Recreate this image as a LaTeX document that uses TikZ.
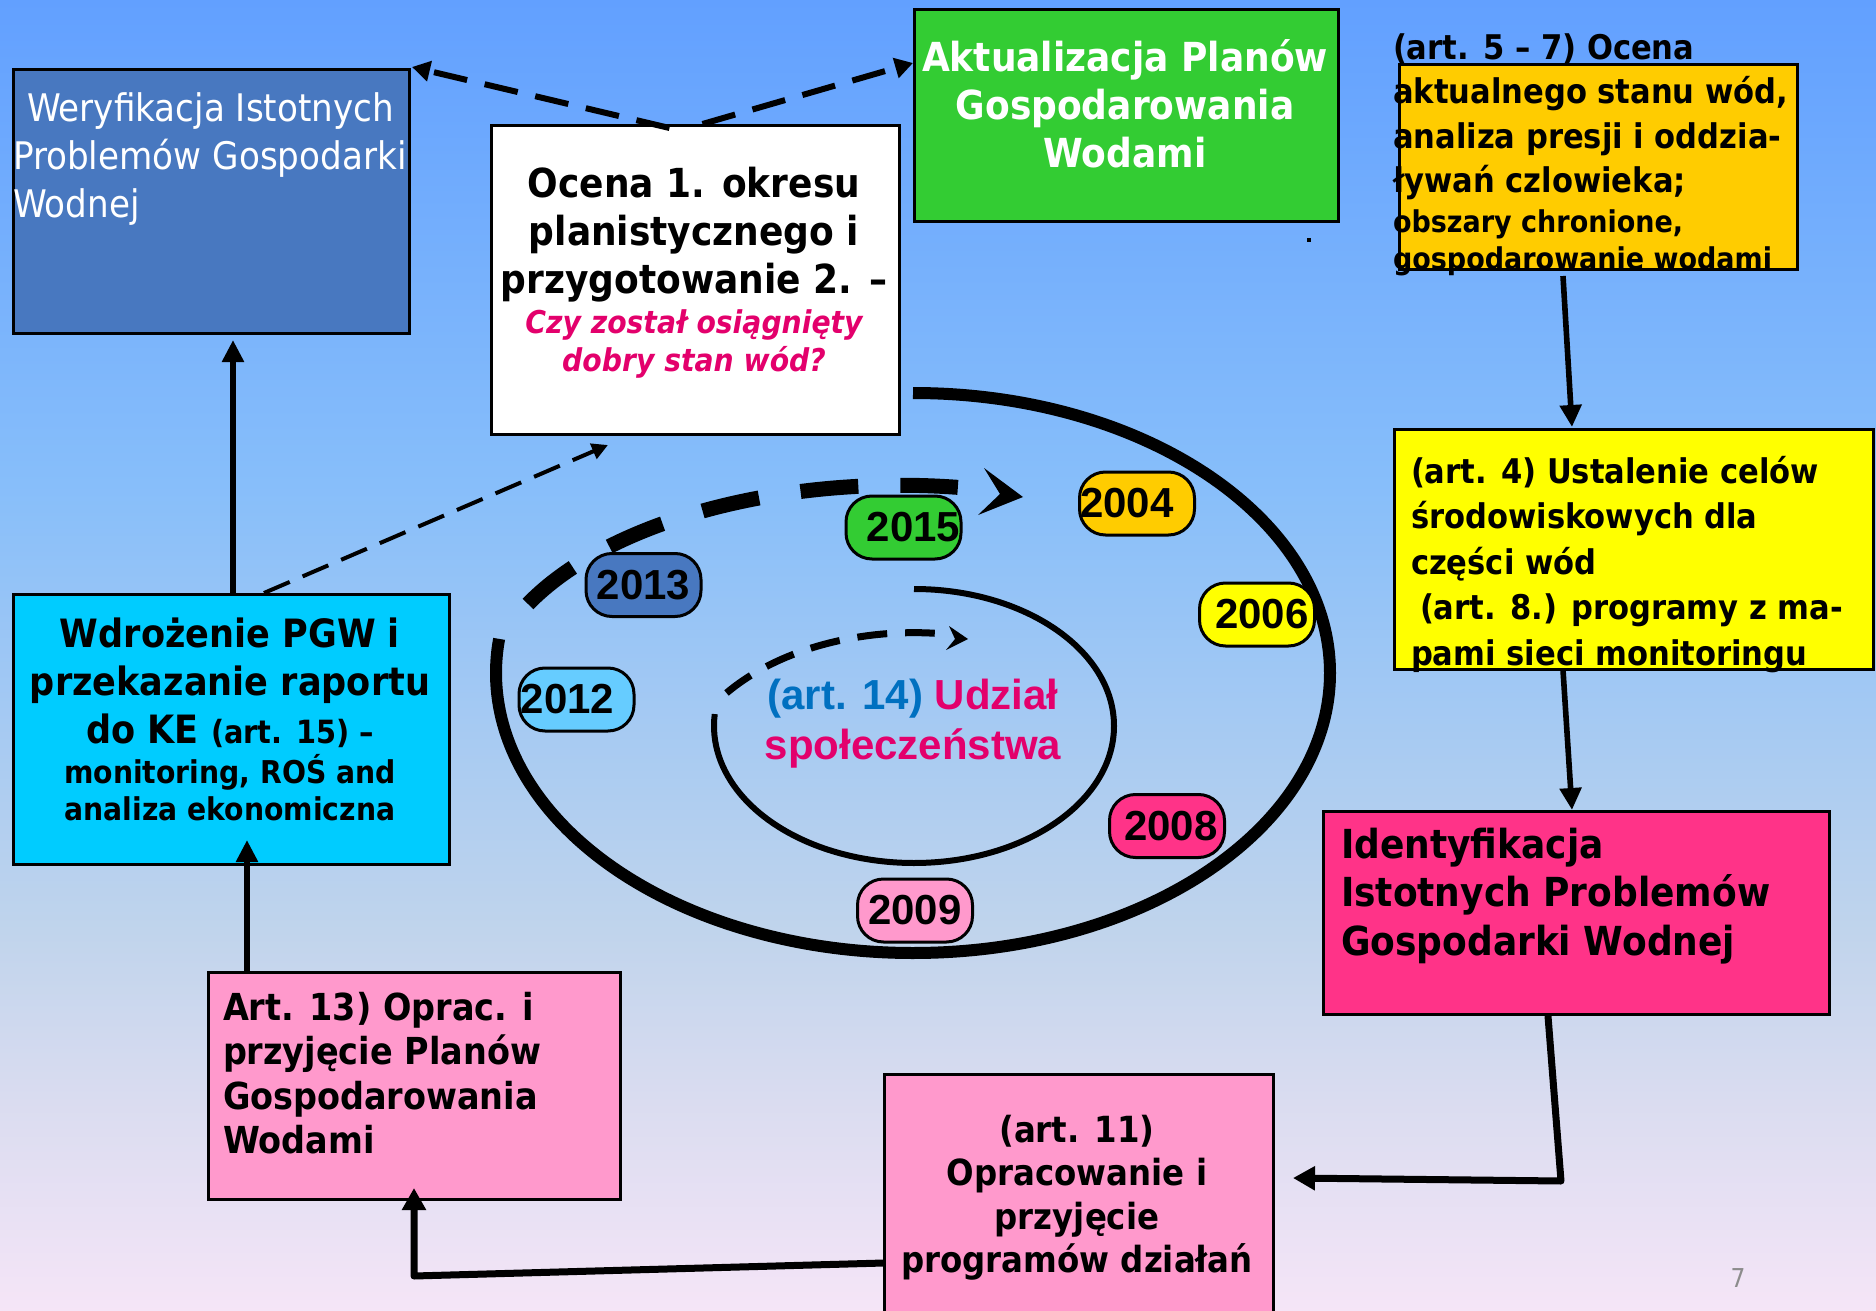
\documentclass[tikz,border=0pt]{standalone}
\usepackage{fontspec}
\usetikzlibrary{arrows.meta,calc}
\newfontfamily\fdj[FakeStretch=0.9]{DejaVu Sans}
\newfontfamily\flib{Liberation Sans}
\newcommand\mystrut{\rule{0pt}{1em}}
\newcommand\setfz[2]{\fontsize{#1}{#2}\selectfont\lineskiplimit=-100pt\relax}
\definecolor{bgA}{RGB}{245,229,247}
\definecolor{bgB}{RGB}{218,220,240}
\definecolor{bgC}{RGB}{192,212,236}
\definecolor{bgD}{RGB}{135,190,250}
\definecolor{bgE}{RGB}{98,160,255}
\definecolor{cblue}{RGB}{72,120,192}
\definecolor{cgreen}{RGB}{51,204,51}
\definecolor{corange}{RGB}{255,204,0}
\definecolor{cyellow}{RGB}{255,255,0}
\definecolor{cpink}{RGB}{255,51,136}
\definecolor{clpink}{RGB}{255,153,204}
\definecolor{ccyan}{RGB}{0,204,255}
\definecolor{clblue}{RGB}{102,204,255}
\definecolor{crim}{RGB}{227,0,108}
\definecolor{artblue}{RGB}{0,112,192}
\definecolor{pgray}{RGB}{140,140,140}
\pgfdeclareverticalshading{bgshade}{100bp}{color(0bp)=(bgA); color(25bp)=(bgA); color(33bp)=(bgB); color(39.5bp)=(bgC); color(56.5bp)=(bgD); color(75bp)=(bgE); color(100bp)=(bgE)}
\begin{document}
\begin{tikzpicture}[x=0.5pt,y=-0.5pt,
  box/.style={draw, line width=1.5pt, anchor=north west, inner sep=0pt},
  oval/.style={draw, line width=1.5pt, rounded corners=13pt, minimum width=57.5pt, minimum height=31.5pt, inner sep=0pt, font={\flib\bfseries\setfz{21pt}{25pt}}},
  txt/.style={inner sep=0pt, outer sep=0pt},
  arrS/.style={line width=2.8pt, -{Triangle[length=11pt,width=10.5pt]}},
  arrT/.style={line width=3.5pt, line join=round, -{Triangle[length=11pt,width=11.5pt]}},
  dashA/.style={line width=3pt, dash pattern=on 17pt off 9pt, -{Triangle[length=9pt,width=10pt]}},
  dashB/.style={line width=2pt, dash pattern=on 14pt off 7pt, -{Triangle[length=8pt,width=8pt]}}]
\useasboundingbox (0,0) rectangle (1876,1311);
\clip (0,0) rectangle (1876,1311);
\shade[shading=bgshade] (0,0) rectangle (1876,1311);

% cycle rings
\draw[line width=6pt] (913,393) arc[start angle=-90,end angle=187,x radius=417,y radius=280];
\draw[line width=3pt] (914,589) arc[start angle=-90,end angle=185,x radius=200,y radius=137];
\draw[line width=7.5pt, dash pattern=on 29pt off 21pt] (528,604) arc[start angle=206.6,end angle=278,x radius=416,y radius=215];
\fill (984,468) -- (1023,497) -- (978,515) -- (1000,494) -- cycle;
\draw[line width=3.5pt, dash pattern=on 15pt off 9pt] (726.5,693) arc[start angle=218,end angle=275,x radius=238,y radius=157];
\fill (949,626) -- (968,639) -- (946,650) -- (955,639) -- cycle;

% years
\node[oval, fill=corange] (y2004) at (1137,503.5) {2004\hspace*{10pt}};
\node[oval, fill=cyellow] (y2006) at (1257,614.5) {\hspace*{5pt}2006};
\node[oval, fill=cpink] (y2008) at (1167,826) {\hspace*{4pt}2008};
\node[oval, fill=clpink] (y2009) at (915,910.5) {2009};
\node[oval, fill=clblue] (y2012) at (576.5,699.5) {2012\hspace*{9pt}};
\node[oval, fill=cblue] (y2013) at (643.5,585) {2013};
\node[oval, fill=cgreen] (y2015) at (903.5,527.5) {\hspace*{10pt}2015};

\node[txt, anchor=north, align=center, font={\flib\bfseries\setfz{21pt}{25pt}}] (udzT) at (913,667)
  {\mystrut\textcolor{artblue}{(art. 14)} \textcolor{crim}{Udział}\\\textcolor{crim}{społeczeństwa}};

% boxes
\node[box, fill=cblue, minimum width=198pt, minimum height=132pt] (weryf) at (12,68) {};
\node[box, fill=white, minimum width=204pt, minimum height=154.5pt] (ocena) at (490,124) {};
\node[box, fill=cgreen, minimum width=212pt, minimum height=106pt] (akt) at (913,8) {};
\node[box, fill=corange, minimum width=199pt, minimum height=102.5pt] (ocbox) at (1398,63) {};
\node[box, fill=cyellow, minimum width=239.5pt, minimum height=120pt] (cel) at (1393,428) {};
\node[box, fill=cpink, minimum width=253pt, minimum height=101.5pt] (ident) at (1322,810) {};
\node[box, fill=clpink, minimum width=194.5pt, minimum height=128.5pt] (a11) at (883,1073) {};
\node[box, fill=clpink, minimum width=206pt, minimum height=113.5pt] (a13) at (207,971) {};
\node[box, fill=ccyan, minimum width=218pt, minimum height=135pt] (wdr) at (12,593) {};

% texts
\node[txt, anchor=north west, align=left, text=white, font={\fdj\setfz{19pt}{24pt}}] (weryfT) at (13,84)
  {\mystrut\hspace*{7pt}Weryfikacja Istotnych\\Problemów Gospodarki\\Wodnej};
\node[txt, anchor=north, align=center, font={\fdj\bfseries\setfz{20pt}{24pt}}] (ocenaT) at (694,157)
  {\mystrut Ocena 1. okresu\\planistycznego i\\przygotowanie 2. –};
\node[txt, anchor=north, align=center, text=crim, font={\fdj\bfseries\itshape\setfz{15.7pt}{19pt}}] (ocenaQ) at (694,301.6)
  {\mystrut Czy został osiągnięty\\dobry stan wód?};
\node[txt, anchor=north, align=center, text=white, font={\fdj\bfseries\setfz{20pt}{24pt}}] (aktT) at (1125,32)
  {\mystrut Aktualizacja Planów\\Gospodarowania\\Wodami};
\node[txt, anchor=north west, align=left, font={\fdj\bfseries\setfz{17pt}{22.3pt}}] (ocT) at (1393,25)
  {\mystrut(art. 5 – 7) Ocena\\aktualnego stanu wód,\\analiza presji i oddzia-\\ływań czlowieka;};
\node[txt, anchor=north west, align=left, font={\fdj\bfseries\setfz{15pt}{18.5pt}}] (ocS) at (1393,203)
  {\mystrut obszary chronione,\\gospodarowanie wodami};
\node[txt, anchor=north west, align=left, font={\fdj\bfseries\setfz{17pt}{22.75pt}}] (celT) at (1411,449)
  {\mystrut(art. 4) Ustalenie celów\\środowiskowych dla\\części wód\\\hspace*{4.5pt}(art. 8.) programy z ma-\\pami sieci monitoringu};
\node[txt, anchor=north west, align=left, font={\fdj\bfseries\setfz{20pt}{24.25pt}}] (idT) at (1341,818)
  {\mystrut Identyfikacja\\Istotnych Problemów\\Gospodarki Wodnej};
\node[txt, anchor=north, align=center, font={\fdj\bfseries\setfz{19.5pt}{24pt}}] (wdrT) at (230,608)
  {\mystrut Wdrożenie PGW i\\przekazanie raportu\\do KE {\setfz{16pt}{24pt}(art. 15) –}};
\node[txt, anchor=north, align=center, font={\fdj\bfseries\setfz{15.7pt}{18.5pt}}] (wdrS) at (230,752)
  {\mystrut monitoring, ROŚ and\\analiza ekonomiczna};
\node[txt, anchor=north west, align=left, font={\fdj\bfseries\setfz{18.6pt}{22.2pt}}] (a13T) at (223,983)
  {\mystrut Art. 13) Oprac. i\\przyjęcie Planów\\Gospodarowania\\Wodami};
\node[txt, anchor=north, align=center, font={\fdj\bfseries\setfz{18pt}{21.8pt}}] (a11T) at (1077,1106)
  {\mystrut(art. 11)\\Opracowanie i\\przyjęcie\\programów działań};
\node[txt, text=pgray, font={\fdj\setfz{13pt}{15pt}}] (pnum) at (1738,1278) {7};
\fill (1307,238) rectangle (1311,242);

% connectors
\draw[arrS] ($(wdr.north west)+(221,0)$) -- ($(weryf.south west)+(221,5)$);
\draw[arrS] ($(a13.north west)+(40,2)$) -- ($(wdr.south west)+(235,-26)$);
\draw[arrS] ($(ocbox.south west)+(165,5)$) -- ($(cel.north west)+(179,-1)$);
\draw[arrS] ($(cel.south west)+(170,-1)$) -- ($(ident.north west)+(250,0)$);
\draw[arrT] ($(ident.south west)+(226,0)$) -- ($(ident.south west)+(239,165)$) -- ($(a11.north east)+(18,105)$);
\draw[arrT] ($(a11.north west)+(1,190)$) -- ($(a13.south west)+(207,75)$) -- ($(a13.south west)+(207,-13)$);
\draw[dashA] ($(ocena.north)+(-26,4)$) -- ($(weryf.north east)+(1,-1)$);
\draw[dashA] ($(ocena.north)+(7,0)$) -- ($(akt.north west)+(0,55)$);
\draw[dashB] ($(wdr.north west)+(252,0)$) -- ($(ocena.south west)+(118,9)$);
\end{tikzpicture}
\end{document}
